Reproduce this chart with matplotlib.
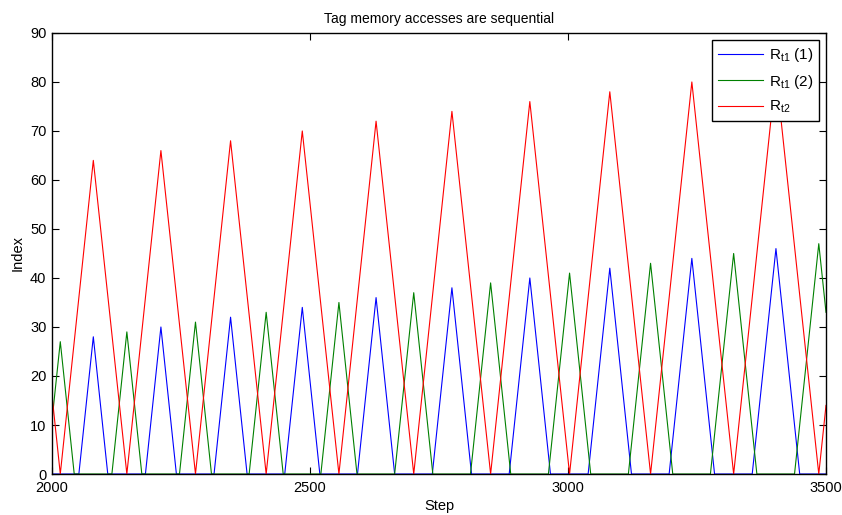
import matplotlib
matplotlib.use('Agg')
import matplotlib.pyplot as plt

plt.rcParams['font.family'] = ['Liberation Sans', 'DejaVu Sans']
plt.rcParams['mathtext.fontset'] = 'custom'
plt.rcParams['mathtext.rm'] = 'Liberation Sans'
plt.rcParams['mathtext.it'] = 'Liberation Sans'

# vertices of the piecewise-linear traces (step, index)
red_steps = [2000, 2016, 2080, 2145, 2211, 2278, 2346, 2415, 2485, 2556, 2628,
             2701, 2775, 2850, 2926, 3003, 3081, 3160, 3240, 3321, 3403, 3486, 3500]
red_vals = [16, 0, 64, 0, 66, 0, 68, 0, 70, 0, 72,
            0, 74, 0, 76, 0, 78, 0, 80, 0, 82, 0, 14]

blue_steps = [2000, 2052, 2080, 2108, 2181, 2211, 2241, 2314, 2346, 2378,
              2451, 2485, 2519, 2592, 2628, 2664, 2737, 2775, 2813,
              2886, 2926, 2966, 3039, 3081, 3123, 3196, 3240, 3284,
              3357, 3403, 3449, 3500]
blue_vals = [0, 0, 28, 0, 0, 30, 0, 0, 32, 0,
             0, 34, 0, 0, 36, 0, 0, 38, 0,
             0, 40, 0, 0, 42, 0, 0, 44, 0,
             0, 46, 0, 0]

green_steps = [2000, 2016, 2043, 2116, 2145, 2174, 2247, 2278, 2309,
               2382, 2415, 2448, 2521, 2556, 2591, 2664, 2701, 2738,
               2811, 2850, 2889, 2962, 3003, 3044, 3117, 3160, 3203,
               3276, 3321, 3366, 3439, 3486, 3500]
green_vals = [11, 27, 0, 0, 29, 0, 0, 31, 0,
              0, 33, 0, 0, 35, 0, 0, 37, 0,
              0, 39, 0, 0, 41, 0, 0, 43, 0,
              0, 45, 0, 0, 47, 33]

x_ticks = [2000, 2500, 3000, 3500]
y_ticks = list(range(0, 91, 10))

fig = plt.figure(figsize=(8.42, 5.15), dpi=100)
ax = fig.add_axes([0.0618, 0.0796, 0.9192, 0.8564])

lw = 0.8
ax.plot(blue_steps, blue_vals, color='#0000ff', lw=lw, label=r'R$_{\mathrm{t1}}$ (1)')
ax.plot(green_steps, green_vals, color='#008000', lw=lw, label=r'R$_{\mathrm{t1}}$ (2)')
ax.plot(red_steps, red_vals, color='#ff0000', lw=lw, label=r'R$_{\mathrm{t2}}$')

ax.set_xlim(2000, 3500)
ax.set_ylim(0, 90)
ax.set_xticks(x_ticks)
ax.set_yticks(y_ticks)
ax.tick_params(direction='in', top=True, right=True, length=5, width=0.8,
               labelsize=10.5)
ax.tick_params(axis='x', pad=5)
ax.tick_params(axis='y', pad=4)
for s in ax.spines.values():
    s.set_linewidth(1.0)

ax.set_title('Tag memory accesses are sequential', fontsize=10, pad=7)
ax.set_xlabel('Step', fontsize=10.5, labelpad=3)
ax.set_ylabel('Index', fontsize=10.5, labelpad=4)

leg = ax.legend(loc='upper right', bbox_to_anchor=(0.9915, 0.984), fontsize=11,
                fancybox=False, framealpha=1, edgecolor='black',
                borderpad=0.4, handlelength=2.9, labelspacing=0.55,
                handletextpad=0.4, borderaxespad=0)
leg.get_frame().set_linewidth(1.0)

fig.savefig('out.png', dpi=100)
